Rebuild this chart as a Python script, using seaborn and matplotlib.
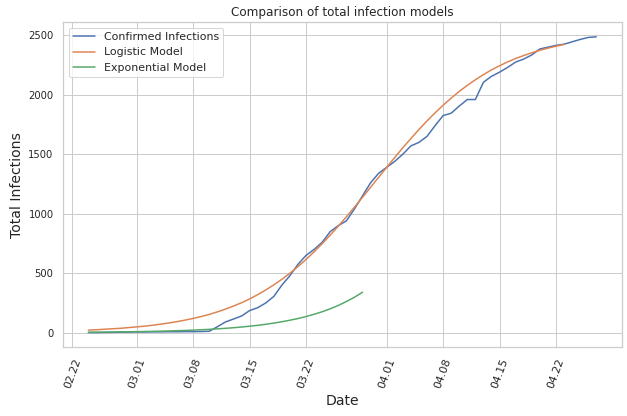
import matplotlib

matplotlib.use("Agg")
import matplotlib.dates as mdates
import matplotlib.pyplot as plt
import pandas as pd
import seaborn as sns

sns.set_theme(style="whitegrid")

# --- data (daily, 2020) ------------------------------------------------------
confirmed_start = "2020-02-24"
confirmed = [1, 1, 2, 3, 4, 5, 6, 6, 7, 7, 8, 8, 9, 9, 10, 12,
             50, 90, 115, 140, 186, 210, 250, 305, 400, 480, 575, 650, 700,
             760, 850, 900, 940, 1040, 1150, 1260, 1340, 1390, 1440, 1500,
             1570, 1600, 1650, 1740, 1825, 1845, 1905, 1960, 1960, 2105,
             2155, 2190, 2230, 2275, 2300, 2335, 2385, 2400, 2415, 2425,
             2445, 2465, 2482, 2487]

logistic_start = "2020-02-24"
logistic = [22, 25, 29, 33, 37, 43, 49, 55, 63, 72, 82, 93, 106, 120,
            136, 154, 175, 198, 224, 252, 284, 320, 359, 402, 449, 500,
            556, 616, 680, 748, 820, 896, 974, 1055, 1138, 1222, 1306,
            1390, 1473, 1554, 1632, 1708, 1780, 1848, 1912, 1972, 2028,
            2079, 2126, 2169, 2209, 2244, 2276, 2305, 2330, 2353, 2374,
            2392, 2408, 2423]

exponential_start = "2020-02-24"
exponential = [4.0, 4.5, 5.1, 5.9, 6.7, 7.6, 8.7, 9.9, 11.3, 12.9, 14.7,
               16.7, 19.0, 21.7, 24.8, 28.2, 32.2, 36.7, 41.8, 47.7, 54.4,
               62, 70.7, 80.6, 92, 105, 119, 136, 155, 176, 201, 229, 262,
               298, 340]


def frame(start, values):
    return pd.DataFrame({"date": pd.date_range(start, periods=len(values), freq="D"),
                         "value": values})


fig, ax = plt.subplots(figsize=(627 / 72, 416 / 72), dpi=72)
pal = sns.color_palette("deep")

sns.lineplot(data=frame(confirmed_start, confirmed), x="date", y="value", ax=ax,
             color=pal[0], lw=1.5, label="Confirmed Infections")
sns.lineplot(data=frame(logistic_start, logistic), x="date", y="value", ax=ax,
             color=pal[1], lw=1.5, label="Logistic Model")
sns.lineplot(data=frame(exponential_start, exponential), x="date", y="value", ax=ax,
             color=pal[2], lw=1.5, label="Exponential Model")

ax.xaxis.set_major_locator(mdates.DayLocator(bymonthday=[1, 8, 15, 22]))
ax.xaxis.set_major_formatter(mdates.DateFormatter("%m.%d"))
ax.tick_params(axis="y", labelsize=10)
ax.tick_params(axis="x", labelsize=11)
plt.setp(ax.get_xticklabels(), rotation=70)

ax.set_title("Comparison of total infection models", fontsize=12)
ax.set_xlabel("Date", fontsize=14)
ax.set_ylabel("Total Infections", fontsize=14)
ax.legend(loc="upper left", fontsize=11)

fig.subplots_adjust(left=0.1005, right=0.9915, top=0.947, bottom=0.165)
fig.savefig("out.png", dpi=72)
